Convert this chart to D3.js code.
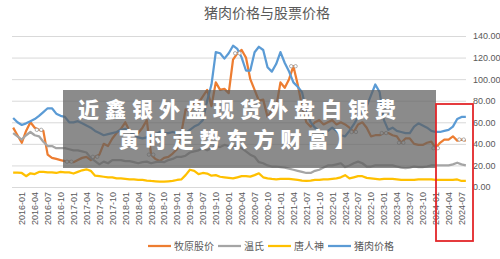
<!DOCTYPE html>
<html>
<head>
<meta charset="utf-8">
<script src="https://cdn.jsdelivr.net/npm/d3@7"></script>
<style>
  body { margin: 0; background: #fff; }
  text { font-family: "Noto Sans CJK SC", "Noto Sans", sans-serif; }
  .axis text { font-family: "Liberation Sans", Arial, sans-serif; font-size: 9px; fill: #595959; }
</style>
</head>
<body>
<svg id="chart" width="500" height="259"></svg>
<script>
// months 2015-11 .. 2024-08
const months = d3.timeMonth.range(new Date(2015, 10, 1), new Date(2024, 8, 1)).map(d3.timeFormat('%Y-%m'));

const tickLabels = [
  '2016-01', '2016-04', '2016-07', '2016-10', '2017-01', '2017-04', '2017-07', '2017-10',
  '2018-01', '2018-04', '2018-07', '2018-10', '2019-01', '2019-04', '2019-07', '2019-10',
  '2020-01', '2020-04', '2020-07', '2020-10', '2021-01', '2021-04', '2021-07', '2021-10',
  '2022-01', '2022-04', '2022-07', '2022-10', '2023-01', '2023-04', '2023-07', '2023-10',
  '2024-01', '2024-04', '2024-07'
];
const yTicks = [0, 20, 40, 60, 80, 100, 120, 140];

const muyuan = [
  55, 48, 41, 52, 60, 55, 53, 52, 30, 27, 26, 25, 24, 23.5, 23, 25, 27, 28, 25, 28,
  30, 40, 38, 45, 50, 54, 60, 52, 48, 50, 55, 62, 30, 26, 24, 27, 28, 31, 35, 50,
  72, 70, 78, 78, 84, 90, 75, 97, 90, 91, 87, 118, 124, 127, 120, 100, 90, 80, 81, 65,
  71, 74, 97, 92, 100, 112, 95, 75, 60, 56, 60, 62, 58, 60, 62, 58, 60, 58, 55, 51,
  58, 60, 55, 47, 48, 48, 50, 50, 48, 47, 41, 45, 45, 40, 39, 39, 41, 42, 36, 41,
  44, 44, 47, 43, 44, 43
];
const wens = [
  50, 47, 44, 48, 51, 48, 47, 42, 38, 38, 36, 36, 36, 35, 34, 34, 33, 32, 27, 24,
  21, 23.5, 22, 25, 25, 25, 24, 24, 23, 22, 23, 23.5, 22, 23, 23.5, 23, 25, 26, 28, 28,
  29, 32, 33, 34, 36, 34, 36, 38, 37, 39, 38, 37, 38, 36, 33, 30, 28, 23, 22, 20,
  19, 19, 18.5, 18, 17, 16, 15, 14, 13, 13, 15, 16, 18, 20, 20, 21, 22, 18.5, 20, 22,
  23.5, 22, 19, 19, 20, 20, 20, 20, 20, 19, 18, 17.6, 18, 19, 18.5, 18.5, 19, 20, 20, 20,
  20, 20, 21, 22.5, 21, 20
];
const tangrenshen = [
  13.3, 13.3, 13, 10, 12.7, 12, 14, 14, 13.5, 13.5, 13, 14, 13.5, 13.5, 12.5, 14, 15.5, 16.4, 15, 10.5,
  10, 9.5, 9, 9, 8, 8, 7.5, 7, 7, 6.5, 6.5, 6, 5.6, 5.3, 5, 5, 5.3, 5.6, 6.5, 7,
  11, 16, 15, 12, 13, 12.5, 10.5, 11, 9.5, 9, 8.5, 8, 9, 10, 10, 9.6, 11, 12.7, 9, 8,
  7.5, 7.1, 7.5, 7.5, 7.5, 7, 6.5, 6, 5.6, 6, 6.5, 6.5, 7, 7, 7.5, 8, 9, 11, 8, 9,
  10, 10, 8.5, 8, 7.5, 7, 7.5, 7.5, 7.5, 7, 6.5, 6.5, 6.5, 6.5, 7, 7, 7, 7, 6.5, 6.5,
  6.5, 6.5, 6.5, 7, 5.6, 5.6
];
const porkPrice = [
  64, 60, 57.5, 59, 61, 63, 66, 69.5, 73, 73, 68, 66, 65, 60, 60, 61, 59, 57, 55, 52,
  50, 48, 49, 50, 51, 53, 54, 52, 48, 46, 45, 46, 47, 49, 51, 50, 50, 51, 50, 49,
  50, 53, 56, 58, 62, 80, 95, 125, 124, 119, 124, 131, 128, 120, 108, 108, 125, 130, 127, 111,
  107, 114, 125, 115, 107, 97, 93, 88, 70, 60, 55, 52, 50, 52, 55, 52, 48, 47, 52, 58,
  65, 70, 75, 85, 95, 88, 62, 53, 55, 52, 51, 50, 50, 56, 59, 57, 55, 52, 51, 51,
  52, 53, 56, 63, 65, 65
];
// points that carry the small selection handles
const handleIdx = [6, 13, 19, 32, 52, 65, 79, 86, 90, 98, 104];

const seriesNames = ['牧原股价', '温氏', '唐人神', '猪肉价格'];
const seriesColors = ['#ED7D31', '#A5A5A5', '#FFC000', '#5B9BD5'];
const seriesData = [muyuan, wens, tangrenshen, porkPrice];

const bannerLines = ['近鑫银外盘现货外盘白银费', '寅时走势东方财富】'];

const svg = d3.select('#chart');

const x = d3.scalePoint().domain(months).range([11, 468]).padding(0.5);
const y = d3.scaleLinear().domain([0, 140]).range([187, 36]);

// title
svg.append('text')
  .attr('x', 267).attr('y', 18)
  .attr('text-anchor', 'middle')
  .style('font-size', '14px').style('fill', '#595959')
  .text('猪肉价格与股票价格');

// gridlines
svg.append('g')
  .selectAll('line')
  .data(yTicks)
  .join('line')
  .attr('x1', 12).attr('x2', 466)
  .attr('y1', d => y(d) + 0.5).attr('y2', d => y(d) + 0.5)
  .attr('stroke', '#d9d9d9').attr('stroke-width', 1);

// y axis on the right
const yAxis = svg.append('g')
  .attr('class', 'axis')
  .attr('transform', 'translate(470,0)')
  .call(d3.axisRight(y).tickValues(yTicks).tickFormat(d3.format('.2f')).tickSize(0).tickPadding(3));
yAxis.select('.domain').remove();

// x axis
const xAxis = svg.append('g')
  .attr('class', 'axis')
  .attr('transform', 'translate(0,187)')
  .call(d3.axisBottom(x).tickValues(tickLabels).tickSize(0));
xAxis.select('.domain').remove();
xAxis.selectAll('text')
  .attr('transform', 'rotate(-90)')
  .attr('x', -5).attr('y', 0).attr('dy', '0.32em')
  .style('text-anchor', 'end');

// lines
const line = d3.line()
  .x((d, i) => x(months[i]))
  .y(d => y(d));

svg.append('g')
  .selectAll('path')
  .data(seriesData)
  .join('path')
  .attr('d', line)
  .attr('fill', 'none')
  .attr('stroke', (d, i) => seriesColors[i])
  .attr('stroke-width', 2.25)
  .attr('stroke-linejoin', 'round');

// little hollow handles on the orange line
const handles = svg.append('g');
handleIdx.forEach(i => {
  [-2.2, 2.2].forEach(dx => {
    handles.append('circle')
      .attr('cx', x(months[i]) + dx).attr('cy', y(muyuan[i]))
      .attr('r', 1.7)
      .attr('fill', '#fff').attr('stroke', '#9a9a9a').attr('stroke-width', 0.8);
  });
});

// legend
const legend = svg.append('g').attr('transform', 'translate(0,246)');
let cx = 148;
seriesNames.forEach((name, i) => {
  legend.append('line')
    .attr('x1', cx).attr('x2', cx + 23)
    .attr('y1', 0).attr('y2', 0)
    .attr('stroke', seriesColors[i]).attr('stroke-width', 2.25);
  const t = legend.append('text')
    .attr('x', cx + 26).attr('y', 0).attr('dy', '0.35em')
    .style('font-size', '10px').style('fill', '#595959')
    .text(name);
  cx += 26 + t.node().getComputedTextLength() + 4;
});

// grey banner overlay
svg.append('rect')
  .attr('x', 63).attr('y', 90).attr('width', 373).attr('height', 78)
  .attr('fill', '#5e5e5e').attr('fill-opacity', 0.72);

svg.append('g')
  .selectAll('text')
  .data(bannerLines)
  .join('text')
  .attr('x', 240).attr('y', (d, i) => 117 + i * 30)
  .attr('text-anchor', 'middle')
  .style('font-size', '21px').style('font-weight', 900)
  .style('letter-spacing', '6px')
  .style('fill', '#fff')
  .text(d => d);

// red highlight box
svg.append('rect')
  .attr('x', 436).attr('y', 104).attr('width', 37).attr('height', 137)
  .attr('fill', 'none').attr('stroke', '#e3262a').attr('stroke-width', 1.8);
</script>
</body>
</html>
